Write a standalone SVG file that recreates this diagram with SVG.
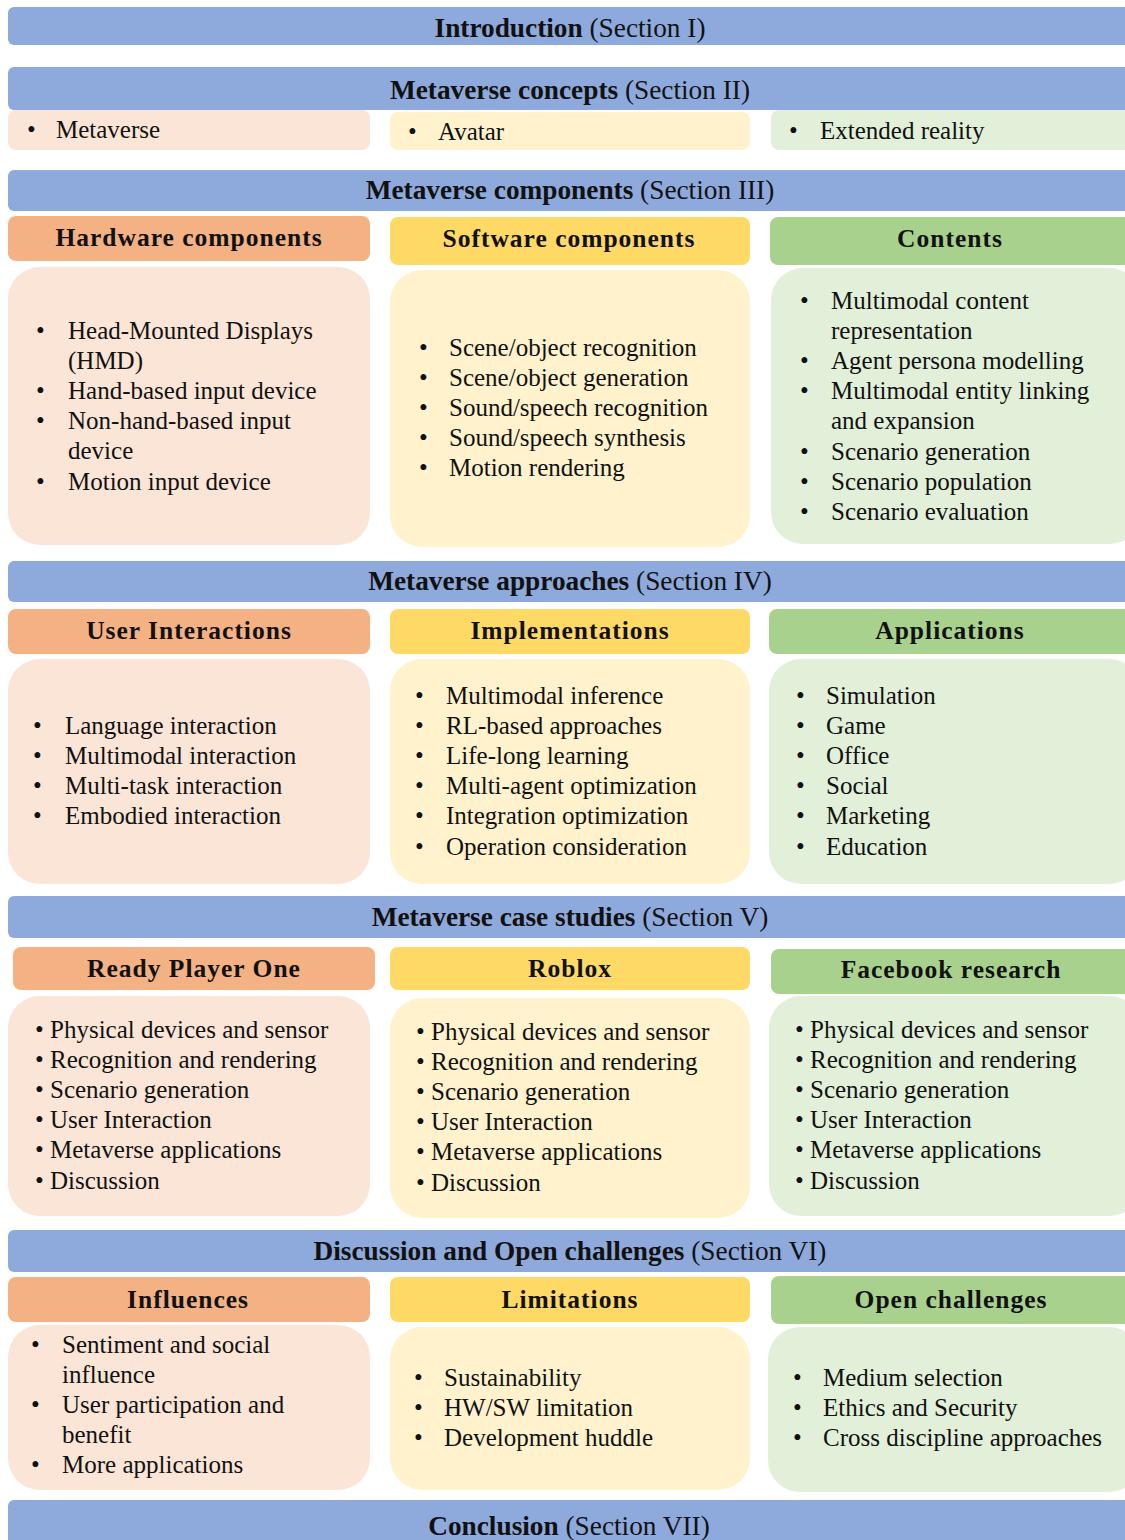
<svg xmlns="http://www.w3.org/2000/svg" width="1125" height="1540" viewBox="0 0 1125 1540">
<style>
text{font-family:"Liberation Serif","Times New Roman",serif;fill:#111;}
.sec{font-size:27.3px;text-anchor:middle;}
.b{font-weight:bold;}
.hd{font-size:25.5px;font-weight:bold;text-anchor:middle;letter-spacing:1px;}
.it{font-size:25px;}
.bar{fill:#8EA9DB;}
.ho{fill:#F4B183;}.lo{fill:#FBE5D6;}
.hy{fill:#FFD966;}.ly{fill:#FFF2CC;}
.hg{fill:#A9D18E;}.lg{fill:#E2F0D9;}
</style>
<rect width="1125" height="1540" fill="#ffffff"/>

<g id="intro">
<rect class="bar" x="8" y="7" width="1140" height="38" rx="6"/>
<text class="sec" x="570" y="37"><tspan class="b">Introduction</tspan> (Section I)</text>
</g>

<g id="concepts">
<rect class="bar" x="8" y="67" width="1140" height="43" rx="6"/>
<text class="sec" x="570" y="99"><tspan class="b">Metaverse concepts</tspan> (Section II)</text>
</g>
<g id="c-metaverse">
<rect class="lo" x="8" y="110" width="362" height="40" rx="8"/>
<text class="it" x="27" y="138">•</text><text class="it" x="56" y="138">Metaverse</text>
</g>
<g id="c-avatar">
<rect class="ly" x="390" y="112" width="360" height="38" rx="8"/>
<text class="it" x="408" y="140">•</text><text class="it" x="438" y="140">Avatar</text>
</g>
<g id="c-xr">
<rect class="lg" x="771" y="110" width="370" height="40" rx="8"/>
<text class="it" x="789" y="139">•</text><text class="it" x="820" y="139">Extended reality</text>
</g>

<g id="components">
<rect class="bar" x="8" y="170" width="1140" height="41" rx="6"/>
<text class="sec" x="570" y="199"><tspan class="b">Metaverse components</tspan> (Section III)</text>
</g>
<g id="hardware">
<rect class="ho" x="8" y="216" width="362" height="45" rx="8"/>
<text class="hd" x="189" y="246">Hardware components</text>
<rect class="lo" x="8" y="267" width="362" height="278" rx="32"/>
<text class="it" x="36" y="339">•</text><text class="it" x="68" y="339">Head-Mounted Displays</text>
<text class="it" x="68" y="369">(HMD)</text>
<text class="it" x="36" y="399">•</text><text class="it" x="68" y="399">Hand-based input device</text>
<text class="it" x="36" y="429">•</text><text class="it" x="68" y="429">Non-hand-based input</text>
<text class="it" x="68" y="459">device</text>
<text class="it" x="36" y="490">•</text><text class="it" x="68" y="490">Motion input device</text>
</g>
<g id="software">
<rect class="hy" x="390" y="217" width="360" height="48" rx="8"/>
<text class="hd" x="569" y="247">Software components</text>
<rect class="ly" x="390" y="270" width="360" height="277" rx="32"/>
<text class="it" x="419" y="356">•</text><text class="it" x="449" y="356">Scene/object recognition</text>
<text class="it" x="419" y="386">•</text><text class="it" x="449" y="386">Scene/object generation</text>
<text class="it" x="419" y="416">•</text><text class="it" x="449" y="416">Sound/speech recognition</text>
<text class="it" x="419" y="446">•</text><text class="it" x="449" y="446">Sound/speech synthesis</text>
<text class="it" x="419" y="476">•</text><text class="it" x="449" y="476">Motion rendering</text>
</g>
<g id="contents">
<rect class="hg" x="770" y="217" width="370" height="48" rx="8"/>
<text class="hd" x="950" y="247">Contents</text>
<rect class="lg" x="771" y="268" width="370" height="276" rx="32"/>
<text class="it" x="800" y="309">•</text><text class="it" x="831" y="309">Multimodal content</text>
<text class="it" x="831" y="339">representation</text>
<text class="it" x="800" y="369">•</text><text class="it" x="831" y="369">Agent persona modelling</text>
<text class="it" x="800" y="399">•</text><text class="it" x="831" y="399">Multimodal entity linking</text>
<text class="it" x="831" y="429">and expansion</text>
<text class="it" x="800" y="460">•</text><text class="it" x="831" y="460">Scenario generation</text>
<text class="it" x="800" y="490">•</text><text class="it" x="831" y="490">Scenario population</text>
<text class="it" x="800" y="520">•</text><text class="it" x="831" y="520">Scenario evaluation</text>
</g>

<g id="approaches">
<rect class="bar" x="8" y="561" width="1140" height="41" rx="6"/>
<text class="sec" x="570" y="590"><tspan class="b">Metaverse approaches</tspan> (Section IV)</text>
</g>
<g id="user-interactions">
<rect class="ho" x="8" y="609" width="362" height="45" rx="8"/>
<text class="hd" x="189" y="639">User Interactions</text>
<rect class="lo" x="8" y="659" width="362" height="225" rx="32"/>
<text class="it" x="33" y="734">•</text><text class="it" x="65" y="734">Language interaction</text>
<text class="it" x="33" y="764">•</text><text class="it" x="65" y="764">Multimodal interaction</text>
<text class="it" x="33" y="794">•</text><text class="it" x="65" y="794">Multi-task interaction</text>
<text class="it" x="33" y="824">•</text><text class="it" x="65" y="824">Embodied interaction</text>
</g>
<g id="implementations">
<rect class="hy" x="390" y="609" width="360" height="45" rx="8"/>
<text class="hd" x="570" y="639">Implementations</text>
<rect class="ly" x="390" y="659" width="360" height="225" rx="32"/>
<text class="it" x="415" y="704">•</text><text class="it" x="446" y="704">Multimodal inference</text>
<text class="it" x="415" y="734">•</text><text class="it" x="446" y="734">RL-based approaches</text>
<text class="it" x="415" y="764">•</text><text class="it" x="446" y="764">Life-long learning</text>
<text class="it" x="415" y="794">•</text><text class="it" x="446" y="794">Multi-agent optimization</text>
<text class="it" x="415" y="824">•</text><text class="it" x="446" y="824">Integration optimization</text>
<text class="it" x="415" y="855">•</text><text class="it" x="446" y="855">Operation consideration</text>
</g>
<g id="applications">
<rect class="hg" x="769" y="609" width="372" height="45" rx="8"/>
<text class="hd" x="950" y="639">Applications</text>
<rect class="lg" x="769" y="659" width="372" height="225" rx="32"/>
<text class="it" x="796" y="704">•</text><text class="it" x="826" y="704">Simulation</text>
<text class="it" x="796" y="734">•</text><text class="it" x="826" y="734">Game</text>
<text class="it" x="796" y="764">•</text><text class="it" x="826" y="764">Office</text>
<text class="it" x="796" y="794">•</text><text class="it" x="826" y="794">Social</text>
<text class="it" x="796" y="824">•</text><text class="it" x="826" y="824">Marketing</text>
<text class="it" x="796" y="855">•</text><text class="it" x="826" y="855">Education</text>
</g>

<g id="case-studies">
<rect class="bar" x="8" y="896" width="1140" height="42" rx="6"/>
<text class="sec" x="570" y="926"><tspan class="b">Metaverse case studies</tspan> (Section V)</text>
</g>
<g id="ready-player-one">
<rect class="ho" x="13" y="947" width="362" height="43" rx="8"/>
<text class="hd" x="194" y="977">Ready Player One</text>
<rect class="lo" x="8" y="996" width="362" height="220" rx="32"/>
<text class="it" x="35" y="1038">• Physical devices and sensor</text>
<text class="it" x="35" y="1068">• Recognition and rendering</text>
<text class="it" x="35" y="1098">• Scenario generation</text>
<text class="it" x="35" y="1128">• User Interaction</text>
<text class="it" x="35" y="1158">• Metaverse applications</text>
<text class="it" x="35" y="1189">• Discussion</text>
</g>
<g id="roblox">
<rect class="hy" x="390" y="947" width="360" height="43" rx="8"/>
<text class="hd" x="570" y="977">Roblox</text>
<rect class="ly" x="390" y="998" width="360" height="220" rx="32"/>
<text class="it" x="416" y="1040">• Physical devices and sensor</text>
<text class="it" x="416" y="1070">• Recognition and rendering</text>
<text class="it" x="416" y="1100">• Scenario generation</text>
<text class="it" x="416" y="1130">• User Interaction</text>
<text class="it" x="416" y="1160">• Metaverse applications</text>
<text class="it" x="416" y="1191">• Discussion</text>
</g>
<g id="facebook-research">
<rect class="hg" x="771" y="949" width="370" height="45" rx="8"/>
<text class="hd" x="951" y="978">Facebook research</text>
<rect class="lg" x="769" y="996" width="372" height="220" rx="32"/>
<text class="it" x="795" y="1038">• Physical devices and sensor</text>
<text class="it" x="795" y="1068">• Recognition and rendering</text>
<text class="it" x="795" y="1098">• Scenario generation</text>
<text class="it" x="795" y="1128">• User Interaction</text>
<text class="it" x="795" y="1158">• Metaverse applications</text>
<text class="it" x="795" y="1189">• Discussion</text>
</g>

<g id="discussion">
<rect class="bar" x="8" y="1230" width="1140" height="42" rx="6"/>
<text class="sec" x="570" y="1260"><tspan class="b">Discussion and Open challenges</tspan> (Section VI)</text>
</g>
<g id="influences">
<rect class="ho" x="8" y="1277" width="362" height="45" rx="8"/>
<text class="hd" x="188" y="1308">Influences</text>
<rect class="lo" x="8" y="1325" width="362" height="165" rx="32"/>
<text class="it" x="31" y="1353">•</text><text class="it" x="62" y="1353">Sentiment and social</text>
<text class="it" x="62" y="1383">influence</text>
<text class="it" x="31" y="1413">•</text><text class="it" x="62" y="1413">User participation and</text>
<text class="it" x="62" y="1443">benefit</text>
<text class="it" x="31" y="1473">•</text><text class="it" x="62" y="1473">More applications</text>
</g>
<g id="limitations">
<rect class="hy" x="390" y="1277" width="360" height="45" rx="8"/>
<text class="hd" x="570" y="1308">Limitations</text>
<rect class="ly" x="390" y="1327" width="360" height="163" rx="32"/>
<text class="it" x="414" y="1386">•</text><text class="it" x="444" y="1386">Sustainability</text>
<text class="it" x="414" y="1416">•</text><text class="it" x="444" y="1416">HW/SW limitation</text>
<text class="it" x="414" y="1446">•</text><text class="it" x="444" y="1446">Development huddle</text>
</g>
<g id="open-challenges">
<rect class="hg" x="771" y="1276" width="370" height="48" rx="8"/>
<text class="hd" x="951" y="1308">Open challenges</text>
<rect class="lg" x="768" y="1327" width="373" height="165" rx="32"/>
<text class="it" x="793" y="1386">•</text><text class="it" x="823" y="1386">Medium selection</text>
<text class="it" x="793" y="1416">•</text><text class="it" x="823" y="1416">Ethics and Security</text>
<text class="it" x="793" y="1446">•</text><text class="it" x="823" y="1446">Cross discipline approaches</text>
</g>

<g id="conclusion">
<rect class="bar" x="8" y="1500" width="1140" height="50" rx="6"/>
<text class="sec" x="569" y="1535"><tspan class="b">Conclusion</tspan> (Section VII)</text>
</g>
<g id="connectors"></g>
</svg>
